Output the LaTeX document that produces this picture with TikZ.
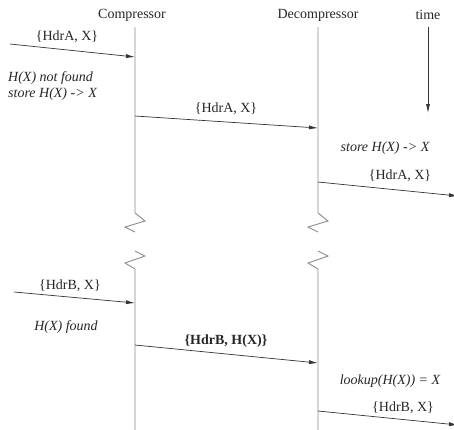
\documentclass[tikz,border=0pt]{standalone}
\usepackage{fontspec}
\setmainfont{Liberation Serif}
\usetikzlibrary{arrows.meta}
\tikzset{
  lifeline/.style={draw=black!45, line width=0.9pt},
  msg/.style={draw=black!80, line width=0.7pt, -{Latex[length=9pt,width=4pt]}},
  lbl/.style={font=\fontsize{14}{16}\selectfont, inner sep=0pt, text=black!85},
  note/.style={lbl, font=\fontsize{14}{16}\selectfont\itshape, align=left},
}
\begin{document}
\begin{tikzpicture}[x=1pt,y=-1pt]
\useasboundingbox (0,0) rectangle (454,429);
% Headers
\node[lbl] (comp) at (132,15) {Compressor};
\node[lbl] (decomp) at (318,15) {Decompressor};
\node[lbl] (time) at (428,15) {time};
% Lifelines, broken in the middle
\foreach \x/\n in {135/c, 318/d} {
  \coordinate (\n top) at (\x,27);
  \coordinate (\n bot) at (\x,432);
  \draw[lifeline] (\n top) -- (\x,213) -- ++(10,8) -- ++(-20,6) -- ++(10,5);
  \draw[lifeline] (\x,251) -- ++(10,5) -- ++(-20,7) -- ++(10,6) -- (\n bot);
}
% Time axis
\coordinate (t1) at (428,27);
\coordinate (t2) at (428,113);
\draw[msg] (t1) -- (t2);
% Message points
\foreach \n/\x/\y in {a0/10/44, a1/135/57, a2/135/116, a3/318/128, a4/318/182, a5/458/196,
                      b0/14/292, b1/135/303, b2/135/345, b3/318/363, b4/318/411, b5/458/425} {
  \coordinate (\n) at (\x,\y);
}
% Messages
\draw[msg] (a0) -- (a1);
\draw[msg] (a2) -- (a3);
\draw[msg] (a4) -- (a5);
\draw[msg] (b0) -- (b1);
\draw[msg] (b2) -- (b3);
\draw[msg] (b4) -- (b5);
% Labels
\node[lbl] (la1) at (67,37) {\{HdrA, X\}};
\node[lbl] (la2) at (226,109) {\{HdrA, X\}};
\node[lbl] (la3) at (400,176) {\{HdrA, X\}};
\node[lbl] (lb1) at (70,286) {\{HdrB, X\}};
\node[lbl, font=\fontsize{14}{16}\selectfont\bfseries] (lb2) at (226,341) {\{HdrB, H(X)\}};
\node[lbl] (lb3) at (403,408) {\{HdrB, X\}};
% Notes
\node[note, anchor=west] (nf) at (8,86) {H(X) not found\\store H(X) -> X};
\node[note] (st) at (385,148) {store H(X) -> X};
\node[note] (fd) at (66,327) {H(X) found};
\node[note] (lk) at (390,381) {lookup(H(X)) = X};
\end{tikzpicture}
\end{document}
